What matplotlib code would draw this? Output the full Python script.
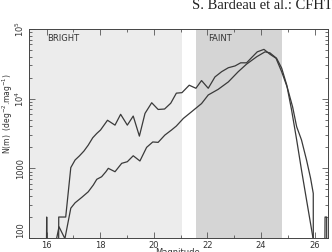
import numpy as np
import matplotlib
matplotlib.use("Agg")
import matplotlib.pyplot as plt
from matplotlib.ticker import FixedLocator, LogLocator, NullFormatter

# Upper (jagged) counts curve
mag_a = [15.9, 16.0, 16.1, 16.40, 16.45, 16.71, 16.90, 17.06, 17.22, 17.39, 17.55, 17.72,
         17.87, 18.01, 18.27, 18.55, 18.76, 19.01, 19.23, 19.46, 19.67, 19.92, 20.16,
         20.40, 20.63, 20.84, 21.05, 21.32, 21.57, 21.78, 22.03, 22.28, 22.53, 22.78,
         23.03, 23.24, 23.46, 23.65, 23.86, 24.11, 24.33, 24.56, 24.77, 24.98, 25.18,
         25.33, 25.51, 25.70, 25.85, 25.95, 25.96]
n_a = [0, 200, 0, 0, 200, 200, 1025, 1317, 1506, 1770, 2150, 2750,
       3170, 3550, 4900, 4170, 5960, 4170, 5630, 2900, 6150, 8740, 7000,
       7100, 8600, 12000, 12200, 15600, 14100, 18200, 14100, 20500, 24400, 27800,
       29500, 32700, 32700, 38900, 47000, 51000, 43500, 38000, 24400, 14500, 7600,
       3960, 2560, 1310, 720, 437, 0]

# Lower (smooth) counts curve
mag_b = [16.37, 16.46, 16.68, 16.90, 17.06, 17.31, 17.55, 17.74, 17.87, 18.05, 18.21,
         18.30, 18.55, 18.80, 19.01, 19.23, 19.48, 19.73, 19.96, 20.16, 20.41, 20.66,
         20.84, 21.10, 21.41, 21.78, 22.03, 22.40, 22.78, 23.15, 23.46, 23.84, 24.15,
         24.33, 24.58, 24.77, 24.96, 25.14, 25.33, 25.51, 25.70, 25.89, 26.08, 26.30,
         26.39, 26.45, 26.47]
n_b = [98, 145, 98, 268, 320, 383, 460, 576, 696, 757, 894,
       1000, 894, 1180, 1245, 1515, 1275, 2000, 2390, 2360, 3000, 3550,
       4050, 5200, 6500, 8500, 11300, 13600, 17400, 24400, 31300, 40000, 47000,
       45500, 38000, 27500, 15700, 6900, 2570, 950, 350, 130, 48, 0,
       200, 200, 0]

bright_range = (15.3, 21.05)
faint_range = (21.57, 24.78)
x_ticks = [16, 18, 20, 22, 24, 26]
y_ticks = [100, 1000, 1e4, 1e5]
y_ticklabels = ["100", "1000", r"10$^4$", r"10$^5$"]

plt.rcParams['font.family'] = ['DejaVu Sans']
fig = plt.figure(figsize=(3.32, 2.52), dpi=100)
ax = fig.add_axes([29/332, 1-238/252, 299/332, 209/252])

ax.axvspan(*bright_range, color='#ececec', lw=0, zorder=0)
ax.axvspan(*faint_range, color='#d5d5d5', lw=0, zorder=0)

def clean(v):
    v = np.asarray(v, dtype=float)
    return np.where(v > 0, v, 1e-3)

lc = '#3a3a3a'
ax.plot(mag_a, clean(n_a), color=lc, lw=0.9, zorder=3)
ax.plot(mag_b, clean(n_b), color=lc, lw=0.9, zorder=3)

ax.set_yscale('log')
ax.set_xlim(15.34, 26.5)
ax.set_ylim(100, 1e5)

ax.xaxis.set_major_locator(FixedLocator(x_ticks))
ax.xaxis.set_minor_locator(FixedLocator([17, 19, 21, 23, 25]))
ax.set_yticks(y_ticks)
ax.set_yticklabels(y_ticklabels)
ax.yaxis.set_minor_locator(LogLocator(base=10, subs=np.arange(2, 10)))
ax.yaxis.set_minor_formatter(NullFormatter())

ax.tick_params(which='both', direction='in', top=True, right=True,
               colors='#555555', labelcolor='#333333', labelsize=6, width=0.6)
ax.tick_params(which='major', length=4)
ax.tick_params(which='minor', length=2)
ax.tick_params(axis='x', pad=2)
ax.tick_params(axis='y', pad=2.5)
for lab in ax.get_yticklabels():
    lab.set_rotation(90)
    lab.set_va('center')
ax.get_yticklabels()[0].set_va('bottom')

for s in ax.spines.values():
    s.set_color('#444444')
    s.set_linewidth(0.7)

ax.set_ylabel(r"N(m)  (deg$^{-2}$.mag$^{-1}$)", fontsize=5.5, color='#333333')
ax.yaxis.set_label_coords(-0.048, 0.595)
ax.set_xlabel("Magnitude", fontsize=6, color='#333333', va='top')
ax.xaxis.set_label_coords(0.495, -0.05)

ax.text(16.0, 0.955, "BRIGHT", transform=ax.get_xaxis_transform(), fontsize=6,
        color='#333333', va='center', ha='left')
ax.text(22.03, 0.955, "FAINT", transform=ax.get_xaxis_transform(), fontsize=6,
        color='#333333', va='center', ha='left')

fig.text(192/332, 1.005, "S. Bardeau et al.: CFHTLS", family='Liberation Serif',
         fontsize=10.5, ha='left', va='top', color='#222222')

fig.savefig("out.png", dpi=100)
